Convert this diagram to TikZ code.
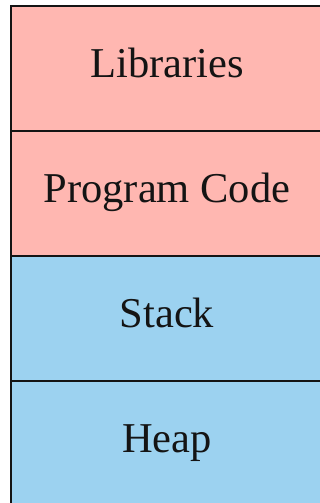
\documentclass[tikz,border=0pt]{standalone}
\usepackage{fontspec}
\setmainfont{Liberation Serif}
\definecolor{segpink}{RGB}{255,183,177}
\definecolor{segblue}{RGB}{156,210,240}
\definecolor{segline}{RGB}{20,20,20}
\begin{document}
\begin{tikzpicture}[x=1pt,y=1pt,
  seg/.style={draw=segline,line width=2pt,minimum width=312pt,minimum height=125pt,inner sep=0pt,outer sep=0pt,anchor=north west},
  lbl/.style={font=\fontsize{42.5}{46}\selectfont,anchor=base,inner sep=0pt,text=black!92}]
\useasboundingbox (0,0) rectangle (320,503);
\clip (0,0) rectangle (320,503);
\fill[white] (0,0) rectangle (320,503);
\node[seg,fill=segpink] (lib) at (11,497) {};
\node[seg,fill=segpink] (prog) at (11,372) {};
\node[seg,fill=segblue] (stack) at (11,247) {};
\node[seg,fill=segblue] (heap) at (11,122) {};
\node[lbl] (tlib) at ([yshift=-9pt]lib.center) {Libraries};
\node[lbl] (tprog) at ([yshift=-9.5pt]prog.center) {Program Code};
\node[lbl] (tstack) at ([yshift=-9pt]stack.center) {Stack};
\node[lbl] (theap) at ([yshift=-9pt]heap.center) {Heap};
\end{tikzpicture}
\end{document}
